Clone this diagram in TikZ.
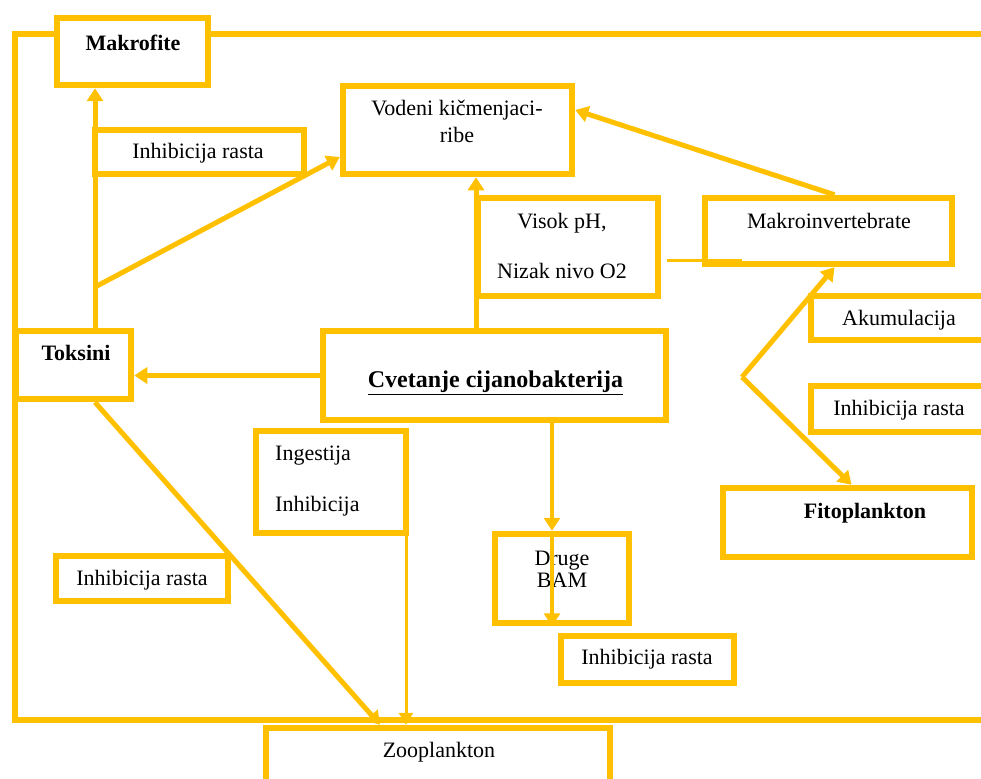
\documentclass[tikz,border=0pt]{standalone}
\usepackage{fontspec}
\setmainfont{Liberation Serif}
\definecolor{bloomgold}{RGB}{255, 192, 0}
\usetikzlibrary{arrows.meta, calc}

\newcommand{\lblsize}{\fontsize{22}{27}\selectfont}

\tikzset{
  box/.style={draw=bloomgold, line width=6.5pt, fill=white, inner sep=0pt},
  frame/.style={draw=bloomgold, line width=6.5pt},
  lbl/.style={font=\lblsize, inner sep=0pt, align=center},
  link/.style={draw=bloomgold, line width=5pt, -{Triangle[length=13pt, width=16pt]}},
  thinlink/.style={draw=bloomgold, line width=3pt, -{Triangle[length=12pt, width=14pt]}},
  plainlink/.style={draw=bloomgold, line width=3pt}
}

\begin{document}
\begin{tikzpicture}[x=1pt, y=-1pt]
  \path[use as bounding box, clip] (0,0) rectangle (981,778);
  \draw[frame] (15,34) rectangle (1000,720);

  % boxes
  \node[box, minimum width=151pt, minimum height=67pt] (makrofite) at (132.5,51.5) {};
  \node[box, minimum width=229pt, minimum height=88pt] (vodeni) at (457.5,130) {};
  \node[box, minimum width=209pt, minimum height=44pt] (inhibtop) at (199.5,152) {};
  \node[box, minimum width=180pt, minimum height=98pt] (visok) at (568,247) {};
  \node[box, minimum width=247pt, minimum height=66pt] (makro) at (828.5,231) {};
  \node[box, minimum width=189pt, minimum height=44pt] (akum) at (905.5,318) {};
  \node[box, minimum width=189pt, minimum height=46pt] (inhibright) at (905.5,409) {};
  \node[box, minimum width=249pt, minimum height=69pt] (fito) at (847.5,522.5) {};
  \node[box, minimum width=343pt, minimum height=89pt] (cvet) at (494.5,375.5) {};
  \node[box, minimum width=115pt, minimum height=68pt] (toksini) at (73.5,365) {};
  \node[box, minimum width=150pt, minimum height=102pt] (ingest) at (331,482) {};
  \node[box, minimum width=172pt, minimum height=45pt] (inhibleft) at (142,578.5) {};
  \node[box, minimum width=134pt, minimum height=89pt] (druge) at (562,578.5) {};
  \node[box, minimum width=173pt, minimum height=47pt] (inhibmid) at (647.5,659.5) {};
  \node[box, minimum width=344pt, minimum height=62pt] (zoo) at (438,759) {};

  % texts
  \node[lbl] (makrofite-t) at (133,43) {\textbf{Makrofite}};
  \node[lbl] (vodeni-t) at (457,121) {Vodeni kičmenjaci-\\ribe};
  \node[lbl] (inhibtop-t) at (198,153) {Inhibicija rasta};
  \node[lbl] (visok-t) at (562,246) {Visok pH,\\[23pt]Nizak nivo O2};
  \node[lbl] (makro-t) at (829,221) {Makroinvertebrate};
  \node[lbl] (akum-t) at (899,320) {Akumulacija};
  \node[lbl] (inhibright-t) at (899,410) {Inhibicija rasta};
  \node[lbl] (fito-t) at (865,513) {\textbf{Fitoplankton}};
  \node[lbl, font=\fontsize{24}{28}\selectfont] (cvet-t) at (495.5,383) {\underline{\textbf{Cvetanje cijanobakterija}}};
  \node[lbl] (toksini-t) at (76,353) {\textbf{Toksini}};
  \node[lbl, align=left, anchor=west] (ingest-t) at (275,481) {Ingestija\\[24pt]Inhibicija};
  \node[lbl] (inhibleft-t) at (142,580) {Inhibicija rasta};
  \node[lbl] (druge-t) at (562,569) {Druge\\[-5pt]BAM};
  \node[lbl] (inhibmid-t) at (647,659) {Inhibicija rasta};
  \node[lbl] (zoo-t) at (439,752) {Zooplankton};

  % connectors
  \coordinate (lx) at (95,0);
  \coordinate (bend) at (95,287);
  \coordinate (cx) at (476,0);
  \coordinate (dx) at (552,0);
  \coordinate (ix) at (406,0);
  \coordinate (zx) at (380,0);
  \coordinate (fork) at (742,377);
  \coordinate (phend) at (742,260);

  \draw[link] (toksini.north -| lx) -- (makrofite.south -| lx);
  \draw[link] (bend) -- ([yshift=-27pt]vodeni.west);
  \draw[link] (cvet.west) -- (cvet.west -| toksini.east);
  \draw[link] (cvet.north -| cx) -- (vodeni.south -| cx);
  \draw[plainlink] ([xshift=6pt, yshift=-13pt]visok.east) -- (phend);
  \draw[link] ([xshift=6pt]makro.north) -- ([yshift=20pt]vodeni.east);
  \draw[link] (fork) -- ([xshift=6pt]makro.south);
  \draw[link] (fork) -- ([xshift=4pt]fito.north);
  \draw[link, line width=4pt] (cvet.south -| dx) -- (druge.north -| dx);
  \draw[link, line width=4pt] (druge.north -| dx) -- (druge.south -| dx);
  \draw[link] (toksini.south -| lx) -- (zoo.north -| zx);
  \draw[thinlink] (ingest.south -| ix) -- (zoo.north -| ix);
\end{tikzpicture}
\end{document}
